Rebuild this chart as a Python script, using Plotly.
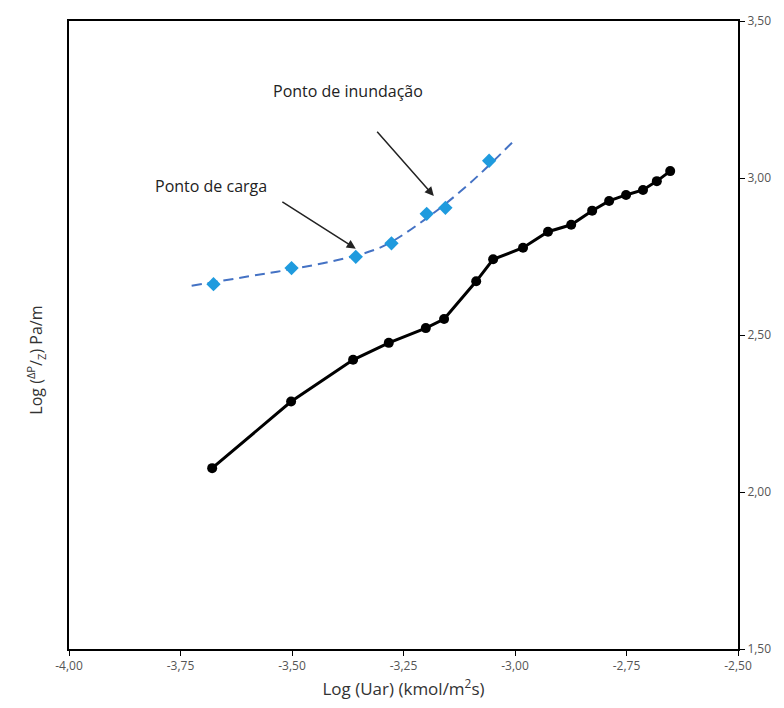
import plotly.graph_objects as go

# Black series (measured)
x_black = [-3.679, -3.502, -3.363, -3.283, -3.200, -3.159, -3.087, -3.049, -2.982,
           -2.926, -2.874, -2.827, -2.789, -2.751, -2.713, -2.682, -2.652]
y_black = [2.076, 2.288, 2.421, 2.475, 2.522, 2.551, 2.671, 2.741, 2.778,
           2.829, 2.851, 2.896, 2.927, 2.946, 2.962, 2.990, 3.022]

# Blue diamonds
x_blue = [-3.676, -3.501, -3.357, -3.277, -3.198, -3.156, -3.058]
y_blue = [2.662, 2.713, 2.749, 2.792, 2.886, 2.905, 3.055]

# Dashed trend curve
x_trend = [-3.725, -3.60, -3.50, -3.40, -3.30, -3.20, -3.10, -3.00]
y_trend = [2.657, 2.686, 2.710, 2.738, 2.780, 2.870, 2.985, 3.122]

x_ticks = [-4.0, -3.75, -3.5, -3.25, -3.0, -2.75, -2.5]
x_ticklabels = ["-4,00", "-3,75", "-3,50", "-3,25", "-3,00", "-2,75", "-2,50"]
y_ticks = [1.5, 2.0, 2.5, 3.0, 3.5]
y_ticklabels = ["1,50", "2,00", "2,50", "3,00", "3,50"]

fig = go.Figure()
fig.add_trace(go.Scatter(x=x_trend, y=y_trend, mode="lines", line_shape="spline",
                         line=dict(color="#4472C4", width=2, dash="10px,6px"),
                         hoverinfo="skip", showlegend=False))
fig.add_trace(go.Scatter(x=x_blue, y=y_blue, mode="markers",
                         marker=dict(symbol="diamond", size=11, color="#1F9BDE"),
                         showlegend=False))
fig.add_trace(go.Scatter(x=x_black, y=y_black, mode="lines+markers",
                         line=dict(color="black", width=3),
                         marker=dict(symbol="circle", size=10, color="black"),
                         showlegend=False))

font_family = "Open Sans, Liberation Sans, sans-serif"

fig.add_annotation(x=-3.374, y=3.278, text="Ponto de inundação", showarrow=False,
                   font=dict(size=16, color="#222", family=font_family))
fig.add_annotation(x=-3.682, y=2.975, text="Ponto de carga", showarrow=False,
                   font=dict(size=16, color="#222", family=font_family))
fig.add_annotation(x=-3.182, y=2.943, ax=-3.312, ay=3.152, axref="x", ayref="y",
                   text="", showarrow=True, arrowhead=2, arrowsize=1.2,
                   arrowwidth=1.5, arrowcolor="#222")
fig.add_annotation(x=-3.357, y=2.775, ax=-3.525, ay=2.927, axref="x", ayref="y",
                   text="", showarrow=True, arrowhead=2, arrowsize=1.2,
                   arrowwidth=1.5, arrowcolor="#222")

fig.update_layout(
    width=784, height=708,
    margin=dict(l=69, r=46, t=17, b=59),
    paper_bgcolor="white", plot_bgcolor="white",
    font=dict(family=font_family, color="#444"),
    xaxis=dict(range=[-4.0, -2.5], tickvals=x_ticks, ticktext=x_ticklabels,
               showgrid=False, zeroline=False, showline=True, linecolor="black",
               linewidth=2, mirror=True, ticks="outside", ticklen=5,
               tickcolor="black", tickfont=dict(size=12, color="#555"),
               title=dict(text="Log (Uar) (kmol/m<sup>2</sup>s)",
                          font=dict(size=17, color="#333"), standoff=10)),
    yaxis=dict(range=[1.5, 3.5], tickvals=y_ticks, ticktext=y_ticklabels,
               side="right", showgrid=False, zeroline=False, showline=True,
               linecolor="black", linewidth=2, mirror=True, ticks="outside",
               ticklen=5, tickcolor="black", tickfont=dict(size=12, color="#555")),
)

fig.add_annotation(xref="paper", yref="paper", x=-0.05, y=0.46,
                   text="Log (<sup>ΔP</sup>/<sub>Z</sub>) Pa/m", textangle=-90,
                   showarrow=False, font=dict(size=16, color="#333"),
                   xanchor="center", yanchor="middle")

fig.write_html("out.html")
